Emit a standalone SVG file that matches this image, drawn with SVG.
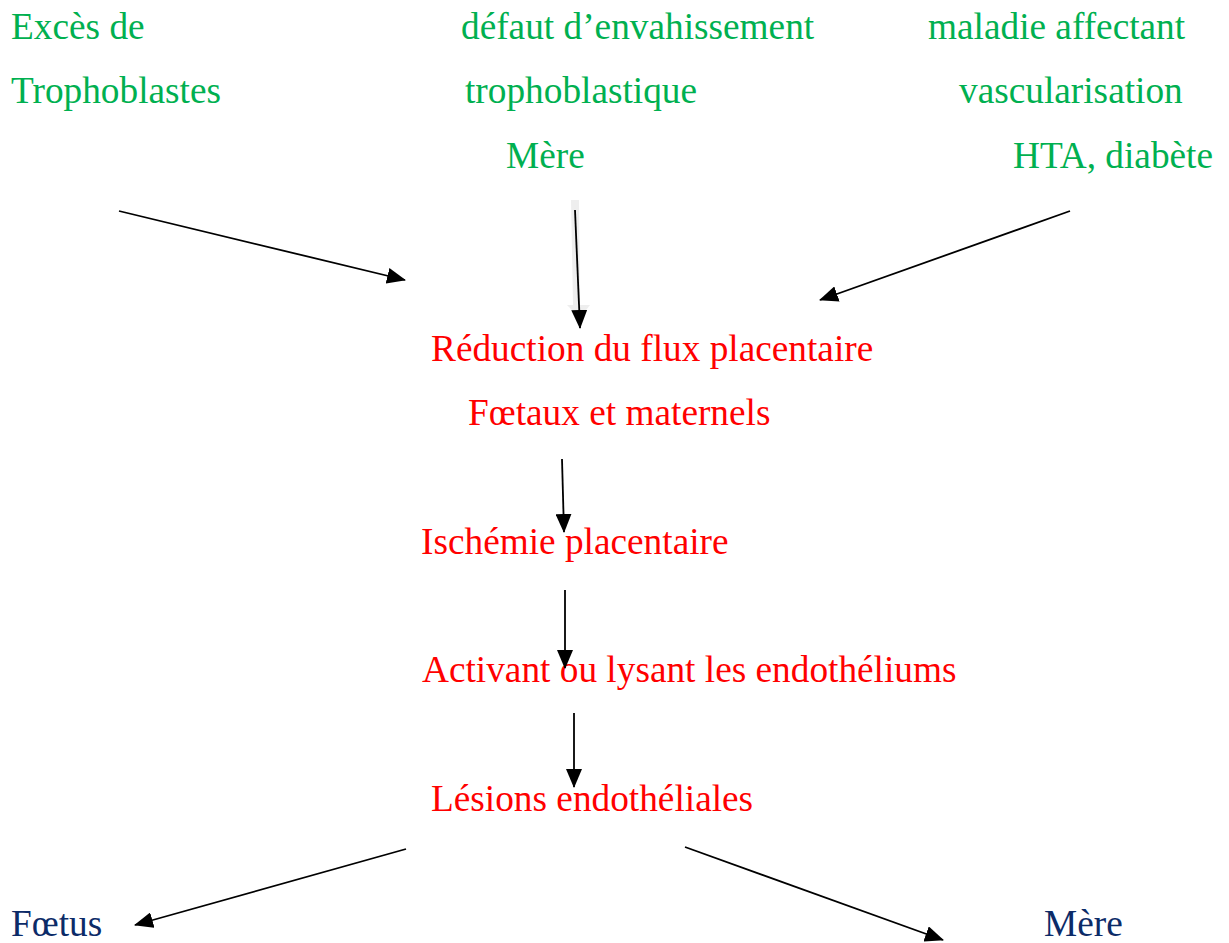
<svg xmlns="http://www.w3.org/2000/svg" width="1229" height="943" viewBox="0 0 1229 943">
<style>
text{font-family:"Liberation Serif","Times New Roman",serif;font-size:37.3px}
.g{fill:#00B050}.r{fill:#FF0000}.b{fill:#0C2B68}
.c line{stroke:#000;stroke-width:1.8;marker-end:url(#ah)}
</style>
<defs>
<marker id="ah" markerUnits="userSpaceOnUse" markerWidth="19" markerHeight="16" refX="18" refY="8" orient="auto" viewBox="0 0 19 16">
<path d="M0,0 L19,8 L0,16 Z" fill="#000"/>
</marker>
</defs>
<rect width="1229" height="943" fill="#fff"/>
<g id="n-exces"><text class="g" x="11" y="39">Excès de</text><text class="g" x="11" y="103">Trophoblastes</text></g>
<g id="n-defaut"><text class="g" x="461" y="39">défaut d’envahissement</text><text class="g" x="465" y="103">trophoblastique</text><text class="g" x="506" y="168">Mère</text></g>
<g id="n-maladie"><text class="g" x="928" y="39">maladie affectant</text><text class="g" x="959" y="103">vascularisation</text><text class="g" x="1013" y="168">HTA, diabète</text></g>
<g id="n-reduction"><text class="r" x="431" y="361">Réduction du flux placentaire</text><text class="r" x="468" y="425">Fœtaux et maternels</text></g>
<g id="n-ischemie"><text class="r" x="421" y="554">Ischémie placentaire</text></g>
<g id="n-activant"><text class="r" x="422" y="682">Activant ou lysant les endothéliums</text></g>
<g id="n-lesions"><text class="r" x="431" y="811">Lésions endothéliales</text></g>
<g id="n-foetus"><text class="b" x="11" y="936">Fœtus</text></g>
<g id="n-mere"><text class="b" x="1044" y="936">Mère</text></g>
<g id="connectors" class="c">
<path d="M571,200 L579,200 L580,305 L590,305 L580,318 L567,305 L573,305 Z" fill="#eeeeee"/>
<line x1="119" y1="211" x2="405" y2="280"/>
<line x1="575" y1="210" x2="580" y2="328"/>
<line x1="1070" y1="211" x2="820" y2="300"/>
<line x1="562" y1="459" x2="564" y2="532"/>
<line x1="565" y1="590" x2="565" y2="668"/>
<line x1="574" y1="713" x2="574" y2="787"/>
<line x1="406" y1="849" x2="135" y2="925"/>
<line x1="685" y1="847" x2="943" y2="940"/>
</g>
</svg>
